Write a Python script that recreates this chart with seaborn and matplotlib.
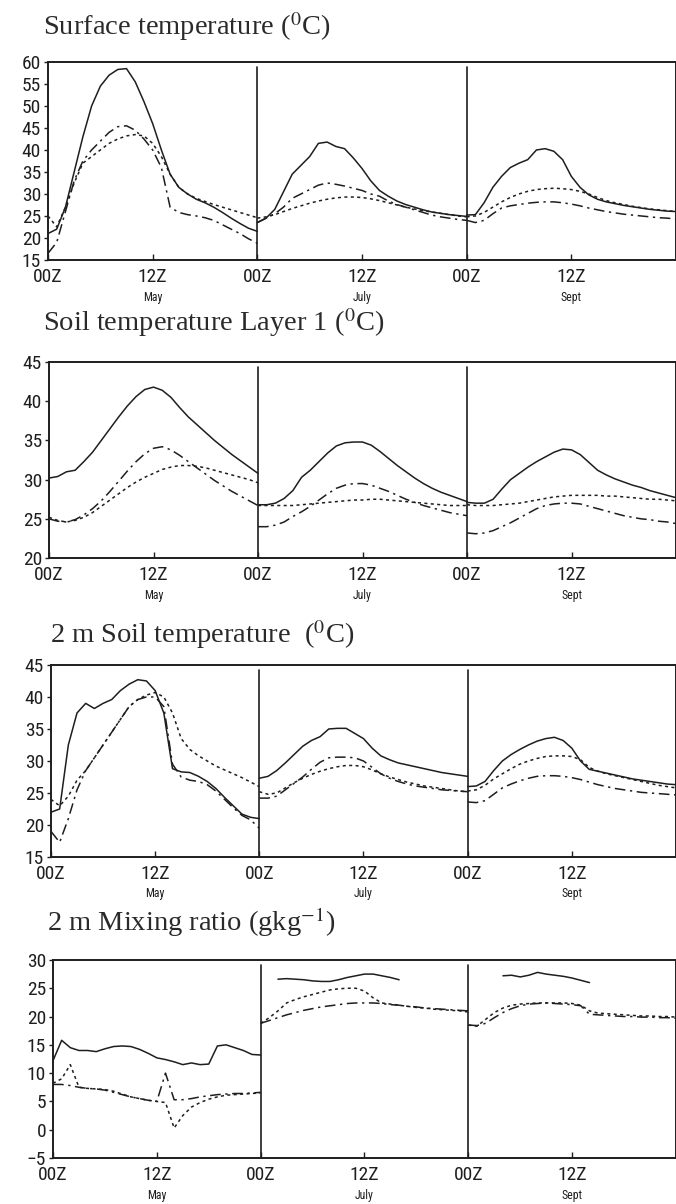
import numpy as np
import pandas as pd
import matplotlib
matplotlib.use("Agg")
import matplotlib.pyplot as plt
from matplotlib import font_manager as fm
import seaborn as sns

nan = np.nan
hours = list(range(25))          # hourly values within each day, 00Z to 00Z
months = ["May", "July", "Sept"]
xtick_pos = [0, 12, 24, 36, 48, 60]
xtick_labels = ["00Z", "12Z", "00Z", "12Z", "00Z", "12Z"]

# Surface temperature (C): May, July, Sept
sfc_solid = (
    [21, 22, 27, 35, 43, 50, 54.5, 57, 58.3, 58.5, 55.5, 51, 46, 40, 34.5, 31.5, 30, 28.8, 28, 27, 25.8, 24.5, 23.3, 22.2, 21.5],
    [23.5, 24.5, 26.5, 30.5, 34.5, 36.5, 38.5, 41.5, 41.8, 40.8, 40.3, 38.2, 35.8, 33, 30.8, 29.5, 28.4, 27.6, 27, 26.4, 25.9, 25.6, 25.3, 25.1, 24.9],
    [25.2, 25.3, 28, 31.5, 34, 36, 37, 37.8, 40, 40.3, 39.7, 37.8, 34, 31.5, 29.8, 28.8, 28.2, 27.8, 27.4, 27.1, 26.8, 26.5, 26.3, 26.1, 26],
)
sfc_dotted = (
    [25, 22.5, 27, 32.5, 37, 38.5, 40, 41.5, 42.5, 43.2, 43.5, 43.2, 41.5, 38.5, 34.5, 31.5, 30, 29, 28.3, 27.6, 27, 26.4, 25.8, 25.2, 24.6],
    [24.5, 24.8, 25.3, 26, 26.7, 27.3, 27.9, 28.4, 28.8, 29.1, 29.3, 29.3, 29.2, 28.9, 28.5, 28, 27.5, 27, 26.6, 26.2, 25.9, 25.6, 25.3, 25, 24.8],
    [24.8, 25, 25.8, 27, 28.2, 29.2, 30, 30.6, 31, 31.2, 31.3, 31.2, 31, 30.6, 30, 29.2, 28.5, 28, 27.6, 27.2, 26.9, 26.6, 26.4, 26.2, 26],
)
sfc_dashdot = (
    [16.5, 19, 26, 33, 37.5, 40, 42, 44, 45.3, 45.5, 44.5, 42.5, 40, 36, 27, 25.8, 25.3, 25, 24.6, 24, 23, 22, 21, 19.8, 18.8],
    [23.5, 24.5, 25.5, 27, 29, 30, 31, 32, 32.5, 32.2, 31.8, 31.3, 30.8, 30, 29.5, 28.4, 27.6, 27, 26.4, 25.8, 25.2, 24.8, 24.5, 24.2, 24],
    [24, 23.5, 24, 25.5, 26.8, 27.3, 27.6, 27.9, 28.1, 28.2, 28.2, 28, 27.7, 27.3, 26.8, 26.4, 26, 25.7, 25.4, 25.2, 25, 24.8, 24.6, 24.5, 24.3],
)

# Soil temperature layer 1 (C)
l1_solid = (
    [30.2, 30.4, 31, 31.2, 32.3, 33.5, 35, 36.5, 38, 39.4, 40.6, 41.5, 41.8, 41.4, 40.5, 39.2, 38, 37, 36, 35, 34.1, 33.2, 32.4, 31.6, 30.8],
    [26.8, 26.8, 27, 27.6, 28.6, 30.3, 31.2, 32.3, 33.4, 34.3, 34.7, 34.8, 34.8, 34.4, 33.6, 32.7, 31.8, 31, 30.2, 29.5, 28.9, 28.4, 28, 27.6, 27.2],
    [27.1, 27, 27, 27.5, 28.8, 30, 30.8, 31.6, 32.3, 32.9, 33.5, 33.9, 33.8, 33.2, 32.2, 31.2, 30.6, 30.1, 29.7, 29.3, 29, 28.6, 28.3, 28, 27.7],
)
l1_dotted = (
    [25.2, 24.8, 24.6, 24.8, 25.2, 25.8, 26.6, 27.4, 28.2, 29, 29.7, 30.3, 30.8, 31.3, 31.6, 31.8, 31.8, 31.7, 31.5, 31.2, 30.9, 30.6, 30.3, 30, 29.6],
    [26.7, 26.7, 26.7, 26.7, 26.7, 26.8, 26.9, 27, 27.1, 27.2, 27.3, 27.4, 27.4, 27.5, 27.5, 27.4, 27.3, 27.2, 27.1, 27, 26.9, 26.8, 26.7, 26.7, 26.7],
    [26.8, 26.7, 26.7, 26.7, 26.8, 26.9, 27, 27.2, 27.4, 27.6, 27.8, 27.9, 28, 28, 28, 28, 27.9, 27.9, 27.8, 27.7, 27.6, 27.5, 27.5, 27.4, 27.3],
)
l1_dashdot = (
    [25, 24.7, 24.6, 24.9, 25.5, 26.3, 27.3, 28.5, 29.8, 31.1, 32.3, 33.3, 34, 34.2, 33.8, 33.1, 32.3, 31.5, 30.7, 29.9, 29.2, 28.5, 27.9, 27.3, 26.7],
    [24, 24, 24.2, 24.6, 25.3, 25.9, 26.6, 27.4, 28.2, 28.9, 29.3, 29.5, 29.5, 29.3, 28.9, 28.5, 28, 27.5, 27.1, 26.7, 26.4, 26.1, 25.8, 25.6, 25.4],
    [23.2, 23.1, 23.2, 23.5, 24, 24.5, 25.1, 25.7, 26.3, 26.7, 26.9, 27, 27, 26.9, 26.6, 26.3, 26, 25.7, 25.4, 25.2, 25, 24.9, 24.7, 24.6, 24.4],
)

# 2 m soil temperature (C)
t2_solid = (
    [22, 22.5, 32.5, 37.5, 39, 38.2, 39, 39.6, 41, 42, 42.7, 42.5, 41, 37.5, 28.8, 28.3, 28.2, 27.6, 26.8, 25.7, 24.3, 23, 21.7, 21.2, 21],
    [27.3, 27.6, 28.5, 29.7, 31, 32.3, 33.2, 33.8, 35, 35.1, 35.1, 34.3, 33.5, 32, 30.8, 30.2, 29.7, 29.4, 29.1, 28.8, 28.5, 28.2, 28, 27.8, 27.6],
    [26, 26.1, 26.8, 28.5, 30, 31, 31.8, 32.5, 33.1, 33.5, 33.7, 33.2, 32, 30, 28.7, 28.4, 28.1, 27.8, 27.5, 27.2, 27, 26.8, 26.6, 26.4, 26.3],
)
t2_dotted = (
    [24, 23, 24.5, 27, 28.5, 30.5, 32.5, 34.5, 36.5, 38.5, 39.6, 40.3, 40.7, 40, 37.5, 33.5, 31.8, 30.8, 30, 29.2, 28.6, 28, 27.4, 26.7, 26],
    [25.2, 24.8, 25, 25.8, 26.6, 27.3, 27.9, 28.4, 28.8, 29.1, 29.3, 29.3, 29.1, 28.6, 28, 27.5, 27.1, 26.7, 26.4, 26.1, 25.9, 25.7, 25.5, 25.3, 25.2],
    [25.3, 25.5, 26.2, 27.2, 28, 28.8, 29.5, 30, 30.4, 30.7, 30.8, 30.8, 30.7, 30.2, 29, 28.4, 28, 27.7, 27.4, 27.1, 26.8, 26.5, 26.2, 26, 25.8],
)
t2_dashdot = (
    [19, 17.3, 21, 25.5, 28.5, 30.5, 32.5, 34.5, 36.5, 38.5, 39.6, 40, 40, 38.5, 29.5, 27.5, 27, 26.8, 26.3, 25.3, 24, 22.7, 21.5, 20.8, 19.5],
    [24.2, 24.2, 24.5, 25.5, 26.5, 27.5, 28.7, 29.8, 30.5, 30.6, 30.6, 30.5, 30, 29, 28, 27.3, 26.8, 26.4, 26.1, 25.9, 25.7, 25.5, 25.4, 25.3, 25.2],
    [23.6, 23.5, 23.8, 24.8, 25.8, 26.4, 26.9, 27.3, 27.6, 27.7, 27.7, 27.6, 27.4, 27.1, 26.7, 26.3, 26, 25.7, 25.5, 25.3, 25.1, 25, 24.9, 24.8, 24.7],
)

# 2 m mixing ratio (g/kg)
q2_solid = (
    [12.2, 15.8, 14.5, 14, 14, 13.8, 14.3, 14.7, 14.8, 14.7, 14.2, 13.5, 12.7, 12.4, 12, 11.5, 11.8, 11.5, 11.6, 14.8, 15, 14.5, 14, 13.3, 13.2],
    [nan, nan, 26.6, 26.7, 26.6, 26.5, 26.3, 26.2, 26.2, 26.5, 26.9, 27.2, 27.5, 27.5, 27.2, 26.9, 26.5, nan, nan, nan, nan, nan, nan, nan, nan],
    [nan, nan, nan, nan, 27.2, 27.3, 27, 27.3, 27.8, 27.5, 27.3, 27.1, 26.8, 26.4, 26, nan, nan, nan, nan, nan, nan, nan, nan, nan, nan],
)
q2_dotted = (
    [8.2, 9, 11.5, 7.5, 7.3, 7.2, 7.1, 6.8, 6.3, 5.8, 5.5, 5.2, 5, 4.8, 0.3, 2.5, 4, 4.8, 5.4, 5.8, 6.1, 6.2, 6.3, 6.4, 6.5],
    [18.8, 19.8, 21, 22.4, 23, 23.5, 23.9, 24.3, 24.7, 24.9, 25, 25, 24.5, 23.3, 22.4, 22.2, 22, 21.8, 21.6, 21.5, 21.3, 21.2, 21.1, 21, 20.8],
    [18.5, 18.3, 19.5, 20.7, 21.5, 22, 22.2, 22.3, 22.4, 22.4, 22.4, 22.4, 22.3, 22, 21, 20.6, 20.5, 20.4, 20.3, 20.2, 20.1, 20.1, 20, 20, 19.9],
)
q2_dashdot = (
    [8, 8, 7.8, 7.5, 7.3, 7.2, 7, 6.6, 6.2, 5.8, 5.5, 5.2, 5, 10, 5.3, 5.3, 5.5, 5.8, 6, 6.2, 6.3, 6.4, 6.4, 6.5, 6.6],
    [18.8, 19.3, 19.8, 20.3, 20.7, 21.1, 21.4, 21.7, 21.9, 22.1, 22.3, 22.4, 22.4, 22.4, 22.3, 22.1, 22, 21.8, 21.7, 21.5, 21.4, 21.3, 21.2, 21.1, 21],
    [18.5, 18.4, 18.8, 19.8, 20.7, 21.4, 21.9, 22.2, 22.3, 22.4, 22.3, 22.2, 22.1, 21.9, 20.4, 20.3, 20.2, 20.1, 20, 20, 19.9, 19.9, 19.8, 19.8, 19.7],
)

sns.set_style("ticks")
# the tick labels are a narrow plotter font; use a narrow face if one is installed
installed = {f.name for f in fm.fontManager.ttflist}
narrow = [n for n in ["Liberation Sans Narrow", "Roboto Condensed", "Open Sans Condensed"] if n in installed]
plt.rcParams["font.family"] = narrow + ["DejaVu Sans"]
plt.rcParams["font.stretch"] = "condensed"
plt.rcParams["mathtext.fontset"] = "stix"

ink = "#1e1e1e"
dotted_ls = (0, (2.0, 2.2))
dashdot_ls = (0, (7, 3, 1.5, 3))
tick_size = 14 if narrow else 11.5

panels = [
    dict(title=r"Surface temperature ($^{0}$C)", data=(sfc_solid, sfc_dotted, sfc_dashdot),
         ylim=(15, 60), rect=[0.071, 0.7841, 0.929, 0.1644], tx=43, ty=27),
    dict(title=r"Soil temperature Layer 1 ($^{0}$C)", data=(l1_solid, l1_dotted, l1_dashdot),
         ylim=(20, 45), rect=[0.0725, 0.5365, 0.9275, 0.1628], tx=43, ty=323),
    dict(title=r"2 m Soil temperature  ($^{0}$C)", data=(t2_solid, t2_dotted, t2_dashdot),
         ylim=(15, 45), rect=[0.0754, 0.2882, 0.9246, 0.1595], tx=50, ty=635),
    dict(title=r"2 m Mixing ratio (gkg$^{-1}$)", data=(q2_solid, q2_dotted, q2_dashdot),
         ylim=(-5, 30), rect=[0.0784, 0.0382, 0.9216, 0.1645], tx=47, ty=922),
]

fig = plt.figure(figsize=(6.76, 12.04), dpi=100)

for p in panels:
    ax = fig.add_axes(p["rect"])
    for series, ls in zip(p["data"], ["-", dotted_ls, dashdot_ls]):
        for day in range(3):
            df = pd.DataFrame({"hour": [day * 24 + h for h in hours], "value": series[day]})
            sns.lineplot(data=df, x="hour", y="value", ax=ax, color=ink,
                         linewidth=1.1, linestyle=ls)
    for xv in (24, 48):
        ax.axvline(xv, ymin=0, ymax=0.975, color=ink, linewidth=1.2)
    ax.set_xlim(0, 72)
    ax.set_ylim(*p["ylim"])
    ax.set_yticks(np.arange(p["ylim"][0], p["ylim"][1] + 1, 5))
    ax.set_xticks(xtick_pos)
    ax.set_xticklabels(xtick_labels)
    ax.set_xlabel("")
    ax.set_ylabel("")
    ax.tick_params(axis="x", direction="in", length=4, width=1, pad=6, labelsize=tick_size, colors=ink)
    ax.tick_params(axis="y", direction="out", length=3, width=1, pad=2, labelsize=tick_size, colors=ink)
    for s in ax.spines.values():
        s.set_linewidth(1.4)
        s.set_color(ink)
    for i, m in enumerate(months):
        ax.text(12 + 24 * i, -0.19, m, transform=ax.get_xaxis_transform(),
                ha="center", va="center", fontsize=8.5, color=ink)
    fig.text(p["tx"] / 676, 1 - p["ty"] / 1204, p["title"], ha="left", va="center",
             fontsize=20.5, family="Liberation Serif", color="#2a2a2a")

fig.savefig("out.png", dpi=100)
